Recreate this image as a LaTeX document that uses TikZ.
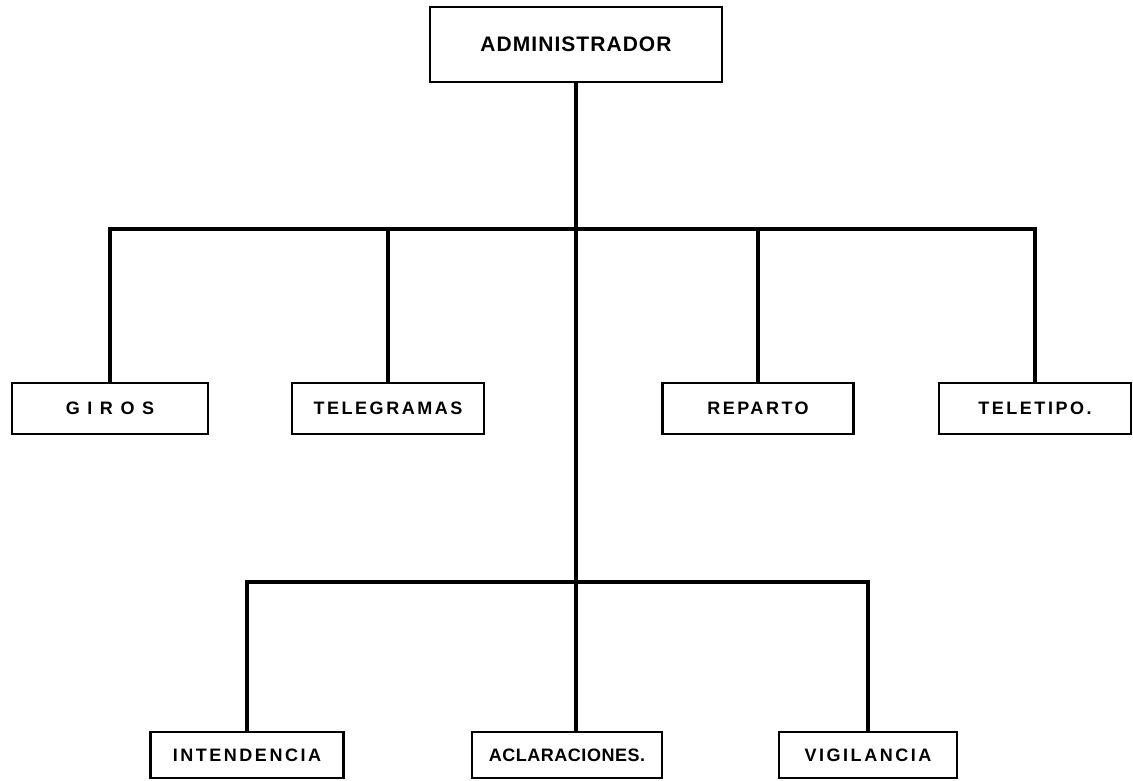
\documentclass[tikz,border=0pt]{standalone}
\usepackage{fontspec}
\newfontfamily\rotulo[LetterSpace=14]{Liberation Sans}
\newfontfamily\rotulojunto[LetterSpace=3]{Liberation Sans}
\newfontfamily\rotulotit[LetterSpace=5]{Liberation Sans}
\tikzset{
  caja/.style={draw, line width=2.8pt, inner sep=0pt, outer sep=0pt,
    minimum height=51pt, font={\rotulo\bfseries\fontsize{18}{20}\selectfont}},
  cajab/.style={caja, minimum height=46pt},
  linea/.style={line width=4.6pt},
}
\begin{document}
\begin{tikzpicture}[x=1pt,y=-1pt]
  \useasboundingbox[fill=white] (0,0) rectangle (1133,780);
  \node[caja, minimum width=292pt, minimum height=75pt,
    font={\rotulotit\bfseries\fontsize{21}{24}\selectfont}] (adm) at (576,44.5) {ADMINISTRADOR};
  \node[caja, minimum width=196pt] (giros) at (110,408.5) {G I R O S};
  \node[caja, minimum width=192pt] (telegr) at (388,408.5) {TELEGRAMAS};
  \node[caja, minimum width=191pt] (reparto) at (758,408.5) {REPARTO};
  \node[caja, minimum width=192pt] (teletipo) at (1035,408.5) {TELETIPO.};
  \node[cajab, minimum width=193pt] (intend) at (247,755) {INTENDENCIA};
  \node[cajab, minimum width=190pt,
    font={\rotulojunto\bfseries\fontsize{18}{20}\selectfont}] (aclar) at (567,755) {ACLARACIONES.};
  \node[cajab, minimum width=178pt] (vigil) at (868,755) {VIGILANCIA};
  \coordinate (bus1) at (576,229);
  \coordinate (bus2) at (576,582);
  \draw[linea] (adm.south) -- (adm.south |- aclar.north);
  \draw[linea] (giros.north) |- (bus1) -| (teletipo.north);
  \draw[linea] (telegr.north) -- (telegr.north |- bus1);
  \draw[linea] (reparto.north) -- (reparto.north |- bus1);
  \draw[linea] (intend.north) |- (bus2) -| (vigil.north);
\end{tikzpicture}
\end{document}
